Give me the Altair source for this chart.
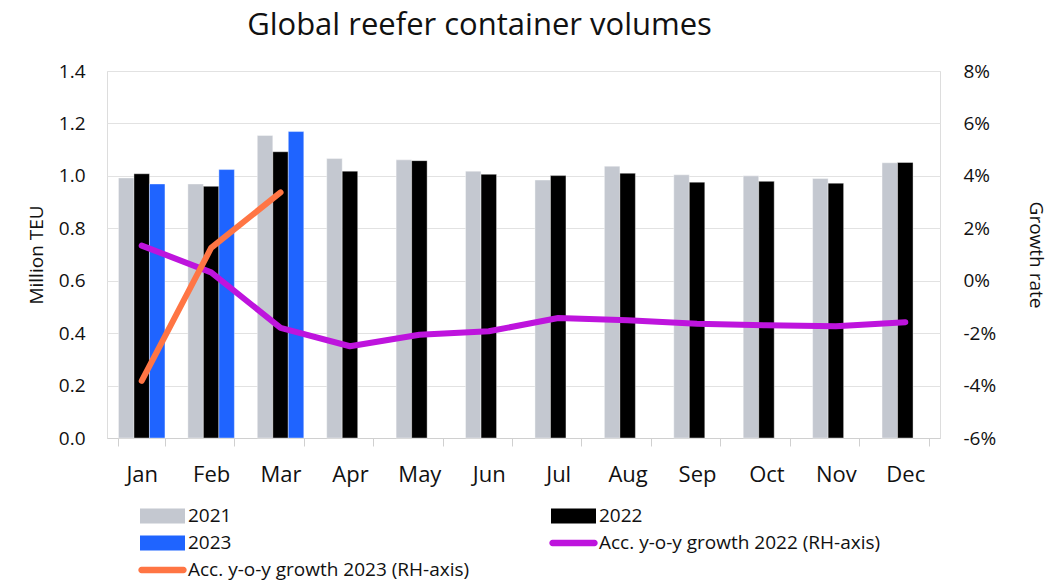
import altair as alt
import pandas as pd

months = ["Jan", "Feb", "Mar", "Apr", "May", "Jun", "Jul", "Aug", "Sep", "Oct", "Nov", "Dec"]
vol_2021 = [0.992, 0.969, 1.154, 1.066, 1.061, 1.018, 0.984, 1.037, 1.004, 1.000, 0.990, 1.050]
vol_2022 = [1.008, 0.960, 1.092, 1.018, 1.058, 1.006, 1.001, 1.010, 0.976, 0.979, 0.972, 1.051]
vol_2023 = [0.969, 1.024, 1.169]
growth_2022 = [1.34, 0.32, -1.80, -2.50, -2.06, -1.93, -1.42, -1.51, -1.64, -1.70, -1.74, -1.58]
growth_2023 = [-3.82, 1.25, 3.37]

s21, s22, s23 = "2021", "2022", "2023"
g22 = "Acc. y-o-y growth 2022 (RH-axis)"
g23 = "Acc. y-o-y growth 2023 (RH-axis)"
legend_order = [s21, s22, s23, g22, g23]
# legend grid fills column by column: this order gives rows (2021, 2022), (2023, g22), (g23)
legend_grid_order = [s21, s23, g23, s22, g22]
colors = ["#C4C8D0", "#000000", "#1F64FF", "#BE14DD", "#FF7544"]

FONT = "Open Sans"

bar_rows = []
for name, vals in [(s21, vol_2021), (s22, vol_2022), (s23, vol_2023)]:
    for m, v in zip(months, vals):
        bar_rows.append({"month": m, "series": name, "value": v})
bars_df = pd.DataFrame(bar_rows)

line_rows = []
for name, vals in [(g22, growth_2022), (g23, growth_2023)]:
    for m, v in zip(months, vals):
        line_rows.append({"month": m, "series": name, "growth": v})
lines_df = pd.DataFrame(line_rows)

legend_df = pd.DataFrame({"series": legend_order})

x_enc = alt.X(
    "month:N", sort=months, title=None,
    scale=alt.Scale(paddingInner=0.33, paddingOuter=0.165),
    axis=alt.Axis(labelAngle=0, labelFontSize=22, labelColor="#111111", labelPadding=18,
                  tickBand="extent", tickSize=8, tickColor="#D0D0D0",
                  domainColor="#D0D0D0", labelFont=FONT),
)

color_scale = alt.Scale(domain=legend_order, range=colors)

rect_path = "M-1,-0.75h4.5v1.5h-4.5z"
line_path = "M-0.85,-0.32h4.2a0.32,0.32 0 0 1 0,0.64h-4.2a0.32,0.32 0 0 1 0,-0.64z"

bars = alt.Chart(bars_df).mark_bar(stroke="white", strokeWidth=0.4).encode(
    x=x_enc,
    xOffset=alt.XOffset("series:N", sort=[s21, s22, s23],
                        scale=alt.Scale(domain=[s21, s22, s23], paddingInner=0, paddingOuter=0)),
    y=alt.Y("value:Q", title="Million TEU",
            scale=alt.Scale(domain=[0, 1.4], nice=False),
            axis=alt.Axis(values=[0, 0.2, 0.4, 0.6, 0.8, 1.0, 1.2, 1.4], format=".1f",
                          labelFontSize=19, labelPadding=22, ticks=False, domain=False,
                          grid=True, gridColor="#E2E2E2", gridWidth=1.2,
                          titleFontSize=19, titleFontWeight="normal", titlePadding=12,
                          labelColor="#111111", titleColor="#111111",
                          labelFont=FONT, titleFont=FONT)),
    color=alt.Color("series:N", scale=color_scale, legend=None),
)

lines = alt.Chart(lines_df).mark_line(strokeWidth=6, strokeCap="round", strokeJoin="round").encode(
    x=x_enc,
    y=alt.Y("growth:Q", title="Growth rate",
            scale=alt.Scale(domain=[-6, 8], nice=False),
            axis=alt.Axis(orient="right", values=[-6, -4, -2, 0, 2, 4, 6, 8],
                          labelExpr="(datum.value < 0 ? '-' : '') + abs(datum.value) + '%'",
                          labelFontSize=19, labelPadding=23, ticks=False, domain=False, grid=False,
                          titleFontSize=19, titleFontWeight="normal", titlePadding=30,
                          labelColor="#111111", titleColor="#111111",
                          labelFont=FONT, titleFont=FONT)),
    color=alt.Color("series:N", scale=color_scale, legend=None),
    detail="series:N",
)

legend_layer = alt.Chart(legend_df).mark_point(filled=True, opacity=1).encode(
    color=alt.Color("series:N", scale=color_scale,
                    legend=alt.Legend(
                        title=None, orient="none", legendX=33, legendY=435,
                        columns=2, columnPadding=79, rowPadding=7,
                        symbolSize=400, symbolStrokeWidth=0, symbolOpacity=1,
                        labelFontSize=19, labelFont=FONT, labelColor="#111111",
                        labelOffset=28, labelLimit=400, values=legend_grid_order)),
    shape=alt.Shape("series:N",
                    scale=alt.Scale(domain=legend_order,
                                    range=[rect_path, rect_path, rect_path, line_path, line_path])),
).transform_filter("false")

chart = alt.layer(bars, lines, legend_layer).resolve_scale(
    y="independent", color="independent", shape="independent"
).properties(
    width=833, height=367,
    title=alt.TitleParams("Global reefer container volumes", fontSize=31, font=FONT,
                          fontWeight="normal", color="#111111", anchor="middle", dx=-44, offset=20),
    autosize=alt.AutoSizeParams(type="none"),
    padding={"left": 107, "top": 71, "right": 119, "bottom": 144},
).configure_view(stroke=None).configure(background="white")

chart.save("out.html", embed_options={"renderer": "svg", "actions": False})
